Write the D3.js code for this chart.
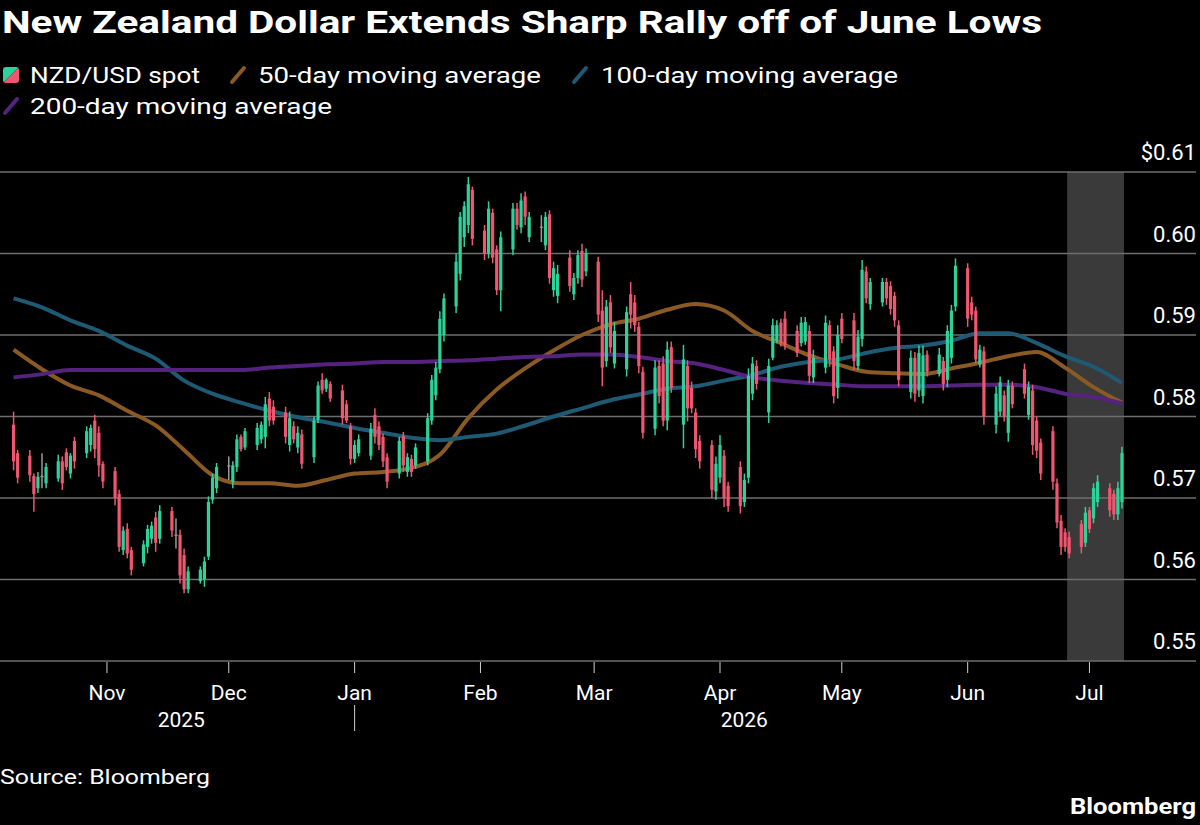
<!DOCTYPE html>
<html><head><meta charset="utf-8">
<script src="https://cdn.jsdelivr.net/npm/d3@7"></script>
<style>
body{margin:0;background:#000;}
svg{display:block;}
text{font-family:Roboto,"Noto Sans",sans-serif;}
</style>
</head><body>
<svg id="chart" width="1200" height="825"></svg>
<script>
// ---------------- DATA ----------------
const titleText = "New Zealand Dollar Extends Sharp Rally off of June Lows";
const sourceText = "Source: Bloomberg";
const seriesNames = ["NZD/USD spot", "50-day moving average", "100-day moving average", "200-day moving average"];
const yTicks = [0.55, 0.56, 0.57, 0.58, 0.59, 0.60, 0.61];
const firstDay = "2025-10-09", lastDay = "2026-07-09"; // daily trading sessions (weekdays)
const highlightStart = "2026-06-25T12:00:00Z", highlightEnd = "2026-07-09T12:00:00Z";

// OHLC, one row per month (Oct 9 2025 .. Jul 9 2026)
const opens = [
 0.5790,0.5755,0.5752,0.5727,0.5712,0.5727,0.5718,0.5724,0.5745,0.5756,0.5730,0.5770,0.5755,0.5765,0.5795,0.5780,0.5742,
 0.5733,0.5705,0.5636,0.5662,0.5636,0.5620,0.5640,0.5650,0.5676,0.5650,0.5684,0.5655,0.5655,0.5630,0.5588,0.5598,0.5600,0.5628,0.5698,0.5712,
 0.5740,0.5720,0.5738,0.5775,0.5762,0.5765,0.5772,0.5775,0.5822,0.5812,0.5805,0.5765,0.5788,0.5762,0.5778,0.5750,0.5796,0.5845,0.5834,0.5840,0.5832,0.5815,0.5788,
 0.5748,0.5755,0.5752,0.5802,0.5788,0.5775,0.5750,0.5730,0.5776,0.5732,0.5748,0.5740,0.5745,0.5795,0.5826,0.5858,0.5900,0.5935,0.5975,0.6020,0.6035,0.6078,
 0.6028,0.6000,0.6050,0.6005,0.5955,0.6005,0.6055,0.6032,0.6070,0.6020,0.6033,0.6010,0.6048,0.5955,0.5948,0.5995,0.5950,0.5970,0.6003,0.5978,
 0.5990,0.5930,0.5868,0.5940,0.5865,0.5858,0.5950,0.5940,0.5910,0.5855,0.5785,0.5862,0.5865,0.5795,0.5885,0.5790,0.5862,0.5835,0.5805,0.5770,0.5765,0.5708,
 0.5725,0.5752,0.5715,0.5738,0.5695,0.5725,0.5828,0.5862,0.5805,0.5872,0.5893,0.5915,0.5920,0.5905,0.5890,0.5892,0.5905,0.5848,0.5860,0.5912,0.5880,0.5835,
 0.5920,0.5918,0.5862,0.5895,0.5978,0.5938,0.5940,0.5965,0.5960,0.5948,0.5912,0.5830,0.5872,0.5832,0.5825,0.5876,0.5852,0.5868,0.5845,0.5872,0.5935,
 0.5982,0.5940,0.5930,0.5864,0.5880,0.5790,0.5806,0.5826,0.5780,0.5838,0.5858,0.5802,0.5832,0.5795,0.5768,0.5782,0.5718,0.5672,0.5658,0.5652,0.5668,0.5645,
 0.5685,0.5675,0.5695,0.5712,0.5705,0.5680,0.5695];
const highs = [
 0.5806,0.5759,0.5759,0.5730,0.5732,0.5755,0.5743,0.5753,0.5751,0.5761,0.5755,0.5775,0.5788,0.5790,0.5802,0.5788,0.5745,
 0.5738,0.5710,0.5665,0.5669,0.5640,0.5648,0.5667,0.5671,0.5683,0.5691,0.5689,0.5675,0.5661,0.5638,0.5616,0.5616,0.5628,0.5702,0.5730,0.5743,
 0.5751,0.5745,0.5778,0.5778,0.5786,0.5792,0.5794,0.5824,0.5830,0.5820,0.5812,0.5806,0.5794,0.5788,0.5784,0.5800,0.5843,0.5853,0.5847,0.5843,0.5839,0.5820,0.5792,
 0.5771,0.5778,0.5792,0.5810,0.5794,0.5779,0.5755,0.5775,0.5781,0.5755,0.5753,0.5767,0.5804,0.5851,0.5867,0.5929,0.5951,0.6000,0.6051,0.6064,0.6094,0.6082,
 0.6035,0.6064,0.6055,0.6010,0.6027,0.6062,0.6062,0.6074,0.6076,0.6051,0.6047,0.6051,0.6053,0.5990,0.5986,0.6004,0.5976,0.6004,0.6012,0.6006,
 0.5996,0.5955,0.5943,0.5949,0.5916,0.5935,0.5965,0.5949,0.5916,0.5861,0.5869,0.5869,0.5874,0.5892,0.5892,0.5888,0.5869,0.5843,0.5810,0.5777,0.5771,0.5751,
 0.5777,0.5759,0.5720,0.5745,0.5730,0.5859,0.5873,0.5869,0.5871,0.5920,0.5918,0.5920,0.5929,0.5912,0.5922,0.5922,0.5912,0.5882,0.5924,0.5918,0.5886,0.5912,
 0.5927,0.5927,0.5906,0.5992,0.5984,0.5970,0.5970,0.5970,0.5966,0.5953,0.5918,0.5881,0.5879,0.5887,0.5887,0.5881,0.5884,0.5873,0.5912,0.5937,0.5994,
 0.5988,0.5947,0.5935,0.5888,0.5886,0.5837,0.5849,0.5832,0.5845,0.5843,0.5865,0.5843,0.5839,0.5800,0.5773,0.5788,0.5724,0.5679,0.5663,0.5659,0.5673,0.5689,
 0.5689,0.5718,0.5728,0.5718,0.5710,0.5720,0.5763];
const lows = [
 0.5734,0.5718,0.5720,0.5683,0.5706,0.5712,0.5712,0.5720,0.5710,0.5734,0.5724,0.5736,0.5749,0.5757,0.5749,0.5726,0.5712,
 0.5691,0.5634,0.5630,0.5626,0.5605,0.5616,0.5632,0.5644,0.5634,0.5644,0.5652,0.5638,0.5595,0.5583,0.5583,0.5595,0.5591,0.5624,0.5693,0.5706,
 0.5722,0.5712,0.5732,0.5757,0.5759,0.5759,0.5767,0.5761,0.5788,0.5790,0.5767,0.5757,0.5767,0.5755,0.5736,0.5743,0.5792,0.5828,0.5830,0.5818,0.5790,0.5792,0.5741,
 0.5743,0.5751,0.5747,0.5767,0.5759,0.5738,0.5712,0.5724,0.5732,0.5726,0.5726,0.5736,0.5740,0.5790,0.5820,0.5853,0.5892,0.5927,0.5967,0.6008,0.6025,0.6010,
 0.5992,0.5994,0.5988,0.5949,0.5929,0.5998,0.6029,0.6025,0.6035,0.6014,0.6014,0.6004,0.5963,0.5947,0.5939,0.5953,0.5943,0.5963,0.5959,0.5972,
 0.5916,0.5837,0.5861,0.5878,0.5859,0.5849,0.5908,0.5904,0.5853,0.5773,0.5777,0.5816,0.5788,0.5783,0.5829,0.5761,0.5794,0.5804,0.5749,0.5736,0.5700,0.5698,
 0.5718,0.5689,0.5683,0.5681,0.5689,0.5718,0.5820,0.5833,0.5792,0.5869,0.5890,0.5886,0.5882,0.5873,0.5886,0.5888,0.5841,0.5841,0.5853,0.5861,0.5816,0.5822,
 0.5890,0.5857,0.5857,0.5886,0.5939,0.5931,0.5935,0.5937,0.5925,0.5910,0.5837,0.5822,0.5818,0.5824,0.5816,0.5849,0.5849,0.5832,0.5836,0.5865,0.5929,
 0.5910,0.5918,0.5865,0.5860,0.5790,0.5779,0.5800,0.5794,0.5769,0.5810,0.5822,0.5796,0.5753,0.5749,0.5722,0.5710,0.5663,0.5630,0.5634,0.5626,0.5632,0.5640,
 0.5657,0.5669,0.5689,0.5677,0.5673,0.5673,0.5687];
const closes = [
 0.5745,0.5725,0.5728,0.5705,0.5726,0.5727,0.5738,0.5745,0.5718,0.5738,0.5752,0.5745,0.5782,0.5786,0.5760,0.5740,0.5720,
 0.5700,0.5640,0.5660,0.5632,0.5612,0.5643,0.5662,0.5666,0.5645,0.5684,0.5660,0.5655,0.5605,0.5588,0.5610,0.5612,0.5622,0.5695,0.5725,0.5738,
 0.5740,0.5740,0.5772,0.5760,0.5782,0.5786,0.5790,0.5815,0.5795,0.5795,0.5775,0.5798,0.5772,0.5780,0.5742,0.5795,0.5838,0.5832,0.5845,0.5822,0.5798,0.5795,0.5748,
 0.5765,0.5772,0.5785,0.5775,0.5765,0.5745,0.5720,0.5770,0.5740,0.5750,0.5732,0.5762,0.5798,0.5845,0.5860,0.5920,0.5945,0.5990,0.6045,0.6058,0.6085,0.6018,
 0.6000,0.6055,0.5995,0.5955,0.6020,0.6055,0.6035,0.6065,0.6045,0.6045,0.6033,0.6045,0.5970,0.5982,0.5975,0.5960,0.5970,0.5998,0.5968,0.6000,
 0.5925,0.5860,0.5935,0.5885,0.5905,0.5928,0.5925,0.5912,0.5862,0.5780,0.5860,0.5825,0.5795,0.5882,0.5835,0.5870,0.5810,0.5810,0.5760,0.5745,0.5710,0.5742,
 0.5765,0.5700,0.5690,0.5690,0.5722,0.5850,0.5865,0.5840,0.5862,0.5912,0.5912,0.5890,0.5888,0.5878,0.5915,0.5916,0.5850,0.5872,0.5915,0.5870,0.5825,0.5900,
 0.5895,0.5868,0.5898,0.5980,0.5945,0.5965,0.5965,0.5945,0.5932,0.5918,0.5845,0.5872,0.5828,0.5878,0.5875,0.5855,0.5876,0.5840,0.5905,0.5930,0.5985,
 0.5920,0.5925,0.5870,0.5882,0.5800,0.5828,0.5842,0.5800,0.5838,0.5815,0.5828,0.5836,0.5765,0.5758,0.5730,0.5720,0.5670,0.5640,0.5640,0.5632,0.5640,0.5682,
 0.5662,0.5712,0.5720,0.5685,0.5680,0.5712,0.5755];

// Moving averages read weekly
const maDates = ["2025-10-09","2025-10-16","2025-10-23","2025-10-30","2025-11-06","2025-11-13","2025-11-20","2025-11-27",
 "2025-12-04","2025-12-11","2025-12-18","2025-12-25","2026-01-01","2026-01-08","2026-01-15","2026-01-22","2026-01-29",
 "2026-02-05","2026-02-12","2026-02-19","2026-02-26","2026-03-05","2026-03-12","2026-03-19","2026-03-26","2026-04-02",
 "2026-04-09","2026-04-16","2026-04-23","2026-04-30","2026-05-07","2026-05-14","2026-05-21","2026-05-28","2026-06-04",
 "2026-06-11","2026-06-18","2026-06-25","2026-07-02","2026-07-09"];
const ma50 = [0.5882,0.5858,0.5838,0.5826,0.5807,0.5789,0.5759,0.5728,0.5718,0.5718,0.5715,0.5722,0.5730,0.5732,0.5737,0.5753,0.5798,
 0.5833,0.5859,0.5881,0.5900,0.5913,0.5920,0.5931,0.5938,0.5930,0.5905,0.5890,0.5875,0.5864,0.5855,0.5853,0.5852,0.5859,0.5866,
 0.5874,0.5879,0.5860,0.5836,0.5817];
const ma100 = [0.5945,0.5934,0.5918,0.5905,0.5887,0.5871,0.5844,0.5828,0.5817,0.5807,0.5799,0.5793,0.5786,0.5780,0.5774,0.5771,0.5775,
 0.5779,0.5789,0.5800,0.5810,0.5820,0.5827,0.5834,0.5837,0.5844,0.5851,0.5861,0.5867,0.5870,0.5878,0.5884,0.5887,0.5893,0.5902,
 0.5902,0.5890,0.5874,0.5861,0.5841];
const ma200 = [0.5848,0.5852,0.5857,0.5857,0.5857,0.5857,0.5857,0.5857,0.5857,0.5860,0.5862,0.5864,0.5865,0.5867,0.5867,0.5868,0.5869,
 0.5871,0.5873,0.5874,0.5876,0.5876,0.5873,0.5868,0.5865,0.5857,0.5848,0.5844,0.5841,0.5839,0.5837,0.5837,0.5837,0.5838,0.5839,
 0.5839,0.5836,0.5828,0.5824,0.5816];

// ---------------- STYLE ----------------
const upColor = "#2dd29b", downColor = "#f0566f", flatColor = "#9a9a9a";
const maColors = ["#8b5a24", "#1e5a74", "#55237f"];
const gridColor = "#6e6e6e";

// ---------------- CHART ----------------
const svg = d3.select("#chart");
svg.append("rect").attr("width",1200).attr("height",825).attr("fill","#000");

const parse = d3.utcParse("%Y-%m-%d");
const days = d3.utcDay.range(parse(firstDay), d3.utcDay.offset(parse(lastDay),1))
  .filter(d => d.getUTCDay() !== 0 && d.getUTCDay() !== 6);
const candles = days.map((d,i) => ({d, o:opens[i], h:highs[i], l:lows[i], c:closes[i]}));

const x = d3.scaleUtc().domain([parse("2025-10-06"), parse("2026-07-10")]).range([1.4, 1126]);
const y = d3.scaleLinear().domain([0.55, 0.61]).range([661, 172]);
const gridRight = 1196;

// highlight band
svg.append("rect")
  .attr("x", x(new Date(highlightStart))).attr("y", y(0.61))
  .attr("width", x(new Date(highlightEnd)) - x(new Date(highlightStart)))
  .attr("height", y(0.55) - y(0.61)).attr("fill", "#3a3a3a");

// grid + y labels
const yAxis = svg.append("g");
yAxis.selectAll("line").data(yTicks).join("line")
  .attr("x1",0).attr("x2",gridRight).attr("y1",d=>y(d)).attr("y2",d=>y(d))
  .attr("stroke",gridColor).attr("stroke-width",1.6);
yAxis.selectAll("text").data(yTicks).join("text")
  .attr("x",gridRight).attr("y",d=>y(d)-12).attr("text-anchor","end")
  .attr("fill","#fff").attr("font-size",22)
  .text(d => (d===0.61?"$":"") + d3.format(".2f")(d));

// x axis
const months = d3.utcMonth.range(parse("2025-11-01"), parse("2026-08-01"));
const xAxis = svg.append("g");
xAxis.selectAll("line").data(months).join("line")
  .attr("x1",d=>x(d)).attr("x2",d=>x(d)).attr("y1",662).attr("y2",673)
  .attr("stroke","#cfcfcf").attr("stroke-width",1);
xAxis.selectAll("text").data(months).join("text")
  .attr("x",d=>x(d)).attr("y",700).attr("text-anchor","middle")
  .attr("fill","#fff").attr("font-size",21)
  .text(d3.utcFormat("%b"));
const janX = x(parse("2026-01-01"));
svg.append("line").attr("x1",janX).attr("x2",janX).attr("y1",705).attr("y2",731)
  .attr("stroke","#cfcfcf").attr("stroke-width",1);
const years = [{t:"2025", a:0, b:janX},{t:"2026", a:janX, b:x.range()[1]}];
svg.selectAll(".yr").data(years).join("text").attr("class","yr")
  .attr("x",d=>(d.a+d.b)/2+4).attr("y",727).attr("text-anchor","middle")
  .attr("fill","#fff").attr("font-size",21).text(d=>d.t);

// moving averages
const maDatesP = maDates.map(parse);
[ma50, ma100, ma200].forEach((vals, k) => {
  const line = d3.line().x((v,i)=>x(maDatesP[i])).y(v=>y(v)).curve(d3.curveMonotoneX);
  svg.append("path").attr("d", line(vals)).attr("fill","none")
    .attr("stroke", maColors[k]).attr("stroke-width",4).attr("stroke-linejoin","round");
});

// candles
const cw = 3.2;
const colorOf = c => c.c > c.o ? upColor : (c.c < c.o ? downColor : flatColor);
const cg = svg.append("g");
cg.selectAll("line").data(candles).join("line")
  .attr("x1",c=>x(c.d)).attr("x2",c=>x(c.d)).attr("y1",c=>y(c.h)).attr("y2",c=>y(c.l))
  .attr("stroke",colorOf).attr("stroke-width",1.5);
cg.selectAll("rect").data(candles).join("rect")
  .attr("x",c=>x(c.d)-cw/2).attr("width",cw)
  .attr("y",c=>y(Math.max(c.o,c.c)))
  .attr("height",c=>Math.max(1.2, Math.abs(y(c.o)-y(c.c))))
  .attr("fill",colorOf);

// title
svg.append("text").attr("x",2).attr("y",33).attr("fill","#fff")
  .attr("font-size",32).attr("font-weight","bold")
  .attr("textLength",1040).attr("lengthAdjust","spacingAndGlyphs").text(titleText);

// legend
const leg = svg.append("g");
const sw = leg.append("g").attr("transform","translate(3,67)");
sw.append("clipPath").attr("id","swclip").append("rect").attr("width",16).attr("height",16).attr("rx",3);
sw.append("path").attr("d","M0,0H16L0,16Z").attr("fill",upColor).attr("clip-path","url(#swclip)");
sw.append("path").attr("d","M16,0V16H0Z").attr("fill",downColor).attr("clip-path","url(#swclip)");
const legItems = [
  {text:seriesNames[0], tx:30, ty:83, w:170},
  {text:seriesNames[1], tx:258, ty:83, w:283, sx:231, color:maColors[0]},
  {text:seriesNames[2], tx:601, ty:83, w:297, sx:573, color:maColors[1]},
  {text:seriesNames[3], tx:30, ty:114, w:302, sx:4, color:maColors[2]}
];
legItems.forEach(it => {
  if (it.color) {
    leg.append("line").attr("x1",it.sx+1).attr("y1",it.ty-1).attr("x2",it.sx+13).attr("y2",it.ty-15)
      .attr("stroke",it.color).attr("stroke-width",4).attr("stroke-linecap","round");
  }
  leg.append("text").attr("x",it.tx).attr("y",it.ty).attr("fill","#fff").attr("font-size",22)
    .attr("textLength",it.w).attr("lengthAdjust","spacingAndGlyphs").text(it.text);
});

// footer
svg.append("text").attr("x",0).attr("y",784).attr("fill","#fff").attr("font-size",21)
  .attr("textLength",210).attr("lengthAdjust","spacingAndGlyphs").text(sourceText);
svg.append("text").attr("x",1196).attr("y",814).attr("text-anchor","end").attr("fill","#fff")
  .attr("font-size",22).attr("font-weight","bold")
  .attr("textLength",126).attr("lengthAdjust","spacingAndGlyphs").text("Bloomberg");
</script>
</body></html>
